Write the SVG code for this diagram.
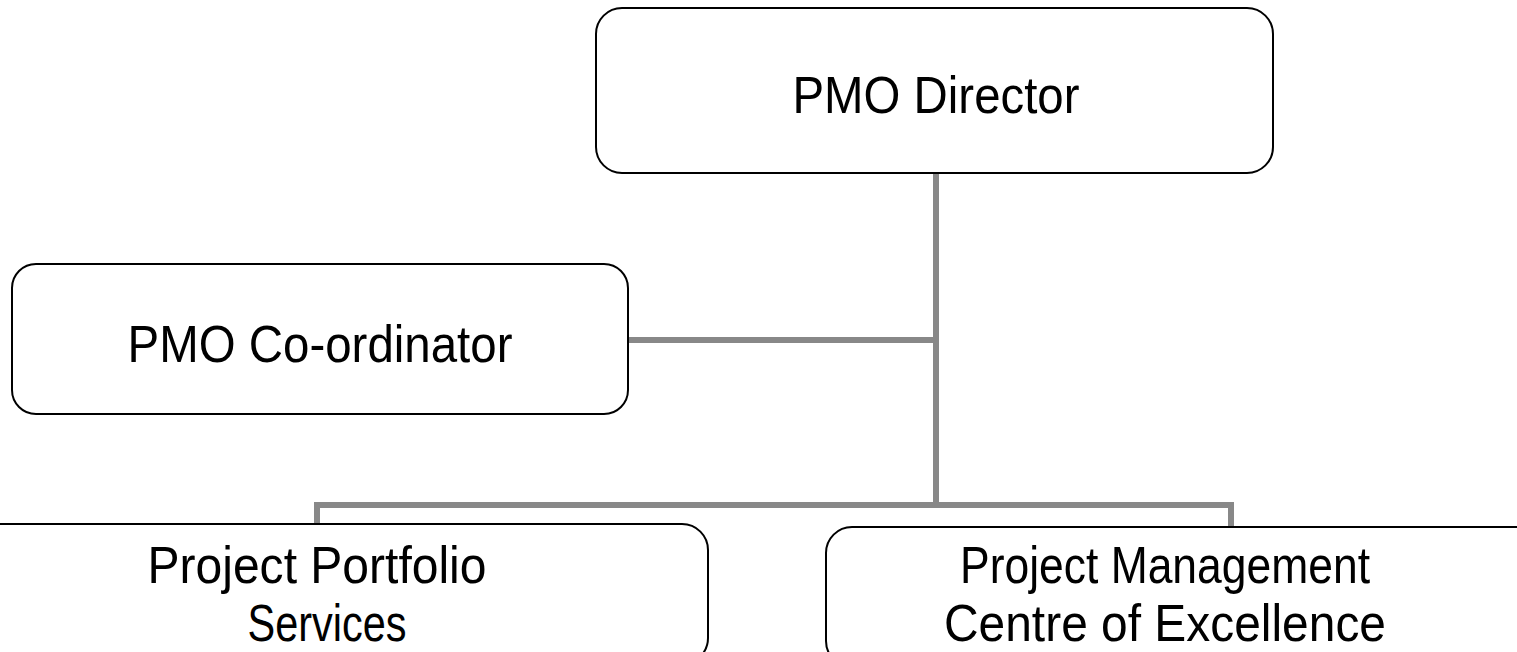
<svg xmlns="http://www.w3.org/2000/svg" width="1517" height="652" viewBox="0 0 1517 652">
<style>
.box{fill:#fff;stroke:#000;stroke-width:2}
.lbl{font-family:"Liberation Sans",Arial,sans-serif;font-size:52px;fill:#000;text-anchor:middle}
.con{stroke:#888;stroke-width:6;fill:none}
</style>
<rect width="1517" height="652" fill="#fff"/>
<g id="connectors">
<path class="con" d="M936 173 V505"/>
<path class="con" d="M628 340 H936"/>
<path class="con" d="M317 524 V505 H1231 V527"/>
</g>
<g id="director">
<rect class="box" x="596" y="8" width="677" height="165" rx="26"/>
<text class="lbl" x="936" y="113" textLength="287" lengthAdjust="spacingAndGlyphs">PMO Director</text>
</g>
<g id="coordinator">
<rect class="box" x="12" y="264" width="616" height="150" rx="24"/>
<text class="lbl" x="320" y="362" textLength="385" lengthAdjust="spacingAndGlyphs">PMO Co-ordinator</text>
</g>
<g id="portfolio">
<rect class="box" x="-40" y="524" width="748" height="140" rx="26"/>
<text class="lbl" x="317" y="583" textLength="339" lengthAdjust="spacingAndGlyphs">Project Portfolio</text>
<text class="lbl" x="327" y="641" textLength="159" lengthAdjust="spacingAndGlyphs">Services</text>
</g>
<g id="coe">
<rect class="box" x="826" y="527" width="740" height="140" rx="26"/>
<text class="lbl" x="1165" y="583" textLength="410" lengthAdjust="spacingAndGlyphs">Project Management</text>
<text class="lbl" x="1165" y="641" textLength="442" lengthAdjust="spacingAndGlyphs">Centre of Excellence</text>
</g>
</svg>
